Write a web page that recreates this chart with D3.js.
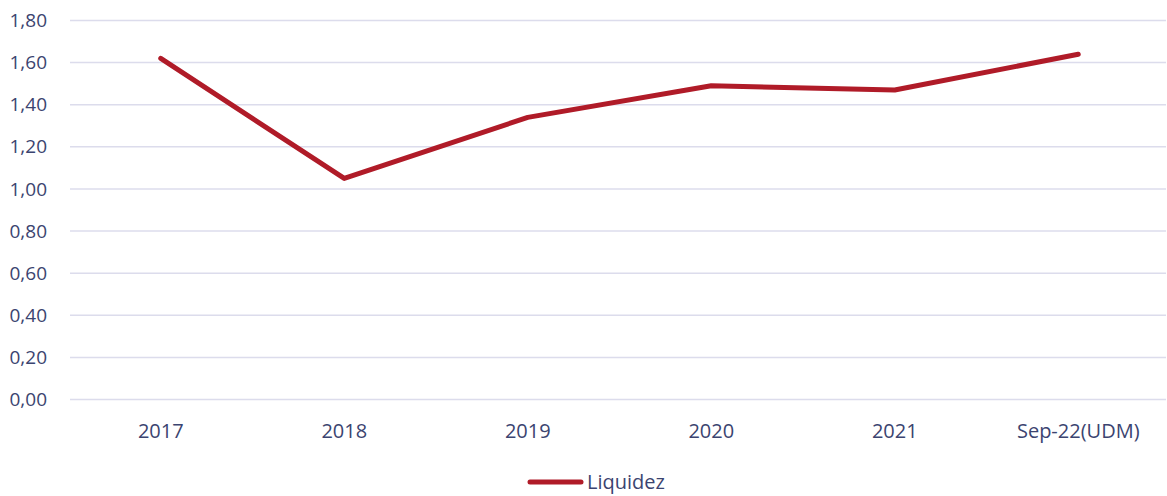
<!DOCTYPE html>
<html>
<head>
<meta charset="utf-8">
<script src="https://cdn.jsdelivr.net/npm/d3@7"></script>
<style>
  body { margin: 0; background: #fff; }
  text { font-family: "Open Sans", "Noto Sans", sans-serif; }
</style>
</head>
<body>
<svg id="chart" width="1167" height="496"></svg>
<script>
// categorías y valores de liquidez
const categories = ['2017', '2018', '2019', '2020', '2021', 'Sep-22(UDM)']
const liquidez = [1.62, 1.05, 1.34, 1.49, 1.47, 1.64]
const yTicks = [0, 0.2, 0.4, 0.6, 0.8, 1.0, 1.2, 1.4, 1.6, 1.8]

const W = 1167, H = 496
// el área de trazado se sale un poco por la derecha, como en el original
const margin = { top: 20.5, right: -3, bottom: 96.5, left: 69 }
const textColor = '#3b4470'

const svg = d3.select('#chart')

const x = d3.scaleBand()
    .domain(categories)
    .range([margin.left, W - margin.right])

const y = d3.scaleLinear()
    .domain([0, 1.8])
    .range([H - margin.bottom, margin.top])

const fmt = v => d3.format('.2f')(v).replace('.', ',')

// grilla horizontal
svg.append('g')
    .selectAll('line')
    .data(yTicks)
    .join('line')
    .attr('x1', 70)
    .attr('x2', W - 1)
    .attr('y1', d => y(d))
    .attr('y2', d => y(d))
    .attr('stroke', '#dcdcec')
    .attr('stroke-width', 1.5)

// etiquetas eje Y
svg.append('g')
    .selectAll('text')
    .data(yTicks)
    .join('text')
    .attr('x', 47)
    .attr('y', d => y(d))
    .attr('dy', '0.35em')
    .attr('text-anchor', 'end')
    .attr('fill', textColor)
    .attr('font-size', 19)
    .text(fmt)

// etiquetas eje X
svg.append('g')
    .selectAll('text')
    .data(categories)
    .join('text')
    .attr('x', d => x(d) + x.bandwidth() / 2)
    .attr('y', 438)
    .attr('text-anchor', 'middle')
    .attr('fill', textColor)
    .attr('font-size', 20)
    .text(d => d)

// línea
const line = d3.line()
    .x((d, i) => x(categories[i]) + x.bandwidth() / 2)
    .y(d => y(d))

svg.append('path')
    .datum(liquidez)
    .attr('d', line)
    .attr('fill', 'none')
    .attr('stroke', '#b01b28')
    .attr('stroke-width', 5)
    .attr('stroke-linecap', 'round')
    .attr('stroke-linejoin', 'round')

// leyenda
svg.append('line')
    .attr('x1', 530).attr('x2', 581)
    .attr('y1', 482).attr('y2', 482)
    .attr('stroke', '#b01b28')
    .attr('stroke-width', 5)
    .attr('stroke-linecap', 'round')

svg.append('text')
    .attr('x', 587)
    .attr('y', 482)
    .attr('dy', '0.35em')
    .attr('fill', textColor)
    .attr('font-size', 20)
    .text('Liquidez')
</script>
</body>
</html>
